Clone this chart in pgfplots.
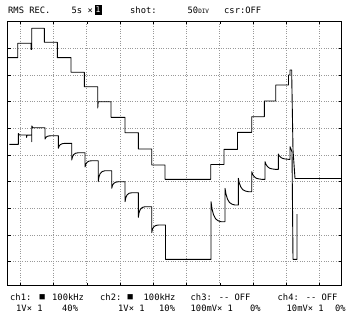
\documentclass[border=0pt]{standalone}
\usepackage{pgfplots}
\pgfplotsset{compat=1.18}
\usepackage{fontspec}
\newfontfamily\scr{DejaVu Sans Mono}

% trace 1: stepped RMS level (pixel coordinates of the screen)
\pgfplotstableread{
x y
8 57.7
17.7 57.7
17.7 43.3
31 43.3
31 49.5
31.7 49.5
31.7 28.3
44.3 28.3
44.3 42.3
57.3 42.3
57.3 57.7
71 57.7
71 72.3
84.3 72.3
84.3 86.7
97.7 86.7
97.7 108
98.2 101.7
111 101.7
111 117.3
125 117.3
125 132.7
138.3 132.7
138.3 149
151.7 149
151.7 165
165 165
165 179.3
210.7 179.3
210.7 164.5
224 164.5
224 149.3
237.5 149.3
237.5 132.3
251.7 132.3
251.7 116.7
264.3 116.7
264.3 101
275.7 101
275.7 85
288.5 85
288.5 75
290 75
290 70
291.7 70
291.7 74
293 150
295 178.5
341 178.5
}\traceone

% trace 2: same steps with detector transients
\pgfplotstableread{
x y
9.3 144.3
18.3 144.3
18.3 133.5
19.5 135
26.5 135
26.5 137.5
27 135.2
31.7 135
31.7 141.7
31.7 126
33 127.7
45 127.7
45 139
45.8 137.5
47 136.5
49 135.9
52 135.7
58.3 135.7
58.3 148.3
59.1 146.1
60.3 144.6
62.3 143.7
65.3 143.3
71.7 143.3
71.7 160
72.5 156.7
73.7 154.5
75.7 153.2
78.7 152.7
85 152.7
85 167
85.8 164.2
87 162.3
89 161.1
92 160.7
98.2 160.7
98.2 181.7
99 176.8
100.2 173.5
102.2 171.5
105.2 170.7
111.7 170.7
111.7 188.3
112.5 185.3
113.7 183.4
115.7 182.2
118.7 181.7
125 181.7
125 201.7
125.8 197.7
127 195
129 193.3
132 192.7
138.3 192.7
138.3 217.3
139.1 212.5
140.3 209.4
142.3 207.4
145.3 206.7
151.7 206.7
151.7 232.7
152.5 229.2
153.7 226.9
155.7 225.5
158.7 225
165.5 225
165.5 259.3
211 259.3
211 201.7
212 208.7
213.5 214.7
215.5 218.7
218 220.7
221 221.7
225 221.7
225 188.3
226 194.1
227.5 199.2
229.5 202.5
232 204.2
235 205
238.3 205
238.3 178.3
239.3 183
240.8 187
242.8 189.7
245.3 191
248.3 191.7
251.7 191.7
251.7 171.7
252.7 174.4
254.2 176.6
256.2 178.2
258.7 178.9
261.7 179.3
265 179.3
265 161.7
266 164.4
267.5 166.6
269.5 168.2
272 168.9
275 169.3
278.3 169.3
278.3 154
279.3 155.9
280.8 157.4
282.8 158.5
285.3 159
288.3 159.3
290 159.3
290 146.7
291 149
292 152
293 259.3
297 259.3
297 214
}\tracetwo

\tikzset{lbl/.style={anchor=west, font=\scr\fontsize{8.8}{10}\selectfont, inner sep=0}}

\begin{document}
\begin{tikzpicture}
\useasboundingbox (-8bp,-33.5bp) rectangle (342bp,285.5bp);
\begin{axis}[
  scale only axis,
  width=333bp, height=264bp,
  xmin=8, xmax=341, ymin=21.5, ymax=285.5,
  y dir=reverse,
  axis line style={line width=1bp},
  xtick={20.3,53.5,86.8,120,153.3,186.5,219.8,253,286.3,319.5},
  ytick={48.5,75,101.7,128.3,155,181.7,208.3,235,261.7},
  xticklabels={}, yticklabels={},
  major tick length=2.5bp,
  tick style={black, line width=0.6bp},
  grid=major,
  grid style={dotted, gray!80, line width=0.7bp},
  clip=false,
]
\addplot[black, line width=0.9bp, line join=round, mark=none] table[x=x, y=y] {\traceone};
\addplot[black, line width=0.9bp, line join=round, mark=none] table[x=x, y=y] {\tracetwo};

% header
\node[lbl] at (axis cs:8,10) {RMS REC.};
\node[lbl] at (axis cs:71.5,10) {5s ×};
\node[fill=black, text=white, font=\scr\fontsize{8}{9}\selectfont, inner sep=0.6bp, minimum width=7bp, minimum height=10bp] at (axis cs:98,10) {1};
\node[lbl] at (axis cs:130,10) {shot:};
\node[lbl] at (axis cs:187.5,10) {50{\fontsize{6}{7}\selectfont DIV}};
\node[lbl] at (axis cs:224,10) {csr:OFF};

% footer, first line
\node[lbl] at (axis cs:10,297) {ch1:};
\node[lbl] at (axis cs:39.5,297) {■};
\node[lbl] at (axis cs:52,297) {100kHz};
\node[lbl] at (axis cs:100,297) {ch2:};
\node[lbl] at (axis cs:127.5,297) {■};
\node[lbl] at (axis cs:143.5,297) {100kHz};
\node[lbl] at (axis cs:190.5,297) {ch3: -- OFF};
\node[lbl] at (axis cs:277.5,297) {ch4: -- OFF};

% footer, second line
\node[lbl] at (axis cs:16,308) {1V× 1};
\node[lbl] at (axis cs:62,308) {40\%};
\node[lbl] at (axis cs:118,308) {1V× 1};
\node[lbl] at (axis cs:159,308) {10\%};
\node[lbl] at (axis cs:190.5,308) {100mV× 1};
\node[lbl] at (axis cs:250,308) {0\%};
\node[lbl] at (axis cs:286.5,308) {10mV× 1};
\node[lbl] at (axis cs:335,308) {0\%};
\end{axis}
\end{tikzpicture}
\end{document}
